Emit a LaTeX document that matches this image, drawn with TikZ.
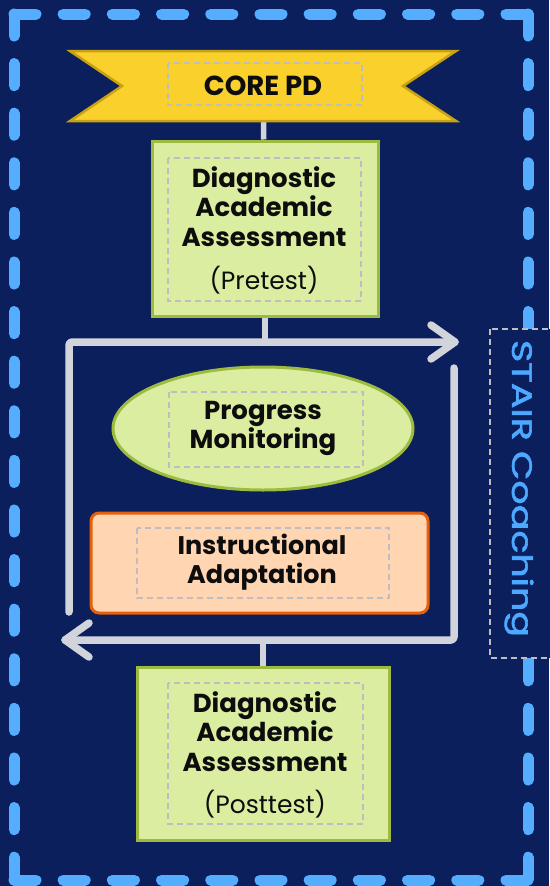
\documentclass[tikz,border=0pt]{standalone}
\usepackage{fontspec}
\setmainfont{Poppins}
\newfontfamily\stairfont{Poppins}[FakeBold=2]
\usetikzlibrary{shapes.geometric,calc}
\definecolor{navy}{HTML}{0A1F5C}
\definecolor{dashblue}{HTML}{55ADFF}
\definecolor{stairblue}{HTML}{4DA8FF}
\definecolor{bannery}{HTML}{F9D02C}
\definecolor{bannerg}{HTML}{C9A214}
\definecolor{greenfill}{HTML}{DBEDA0}
\definecolor{greenline}{HTML}{9CBB3F}
\definecolor{orangefill}{HTML}{FFD5B2}
\definecolor{orangeline}{HTML}{E65F0C}
\definecolor{innergray}{HTML}{BDBDC2}
\definecolor{loopgray}{HTML}{D2D4DC}
\definecolor{ink}{HTML}{0D0D0D}
\pgfdeclarelayer{back}
\pgfdeclarelayer{bg}
\pgfsetlayers{back,bg,main}
\tikzset{
  greenbox/.style={draw=greenline, fill=greenfill, line width=3pt, text=ink, align=center, inner sep=0pt},
  innerbox/.style={draw=innergray, line width=2.4pt, dash pattern=on 6pt off 4pt},
  loopline/.style={draw=loopgray, line width=7.5pt, line cap=round, line join=round},
  conn/.style={draw=loopgray, line width=5.5pt},
  borderline/.style={draw=dashblue, line width=11pt, line cap=round},
  bodytxt/.style={text=ink, align=center, inner sep=0pt, font=\fontsize{26}{29.5}\selectfont\bfseries},
}
\begin{document}
\begin{tikzpicture}[x=1pt,y=-1pt]
\useasboundingbox (0,0) rectangle (549,886);
\begin{pgfonlayer}{back}
\fill[navy] (0,0) rectangle (549,886);
% border
\draw[borderline, dash pattern=on 22pt off 27.2pt] (14,14) -- (528,14);
\draw[borderline, dash pattern=on 22pt off 27.2pt] (14,880) -- (528,880);
\draw[borderline, dash pattern=on 22pt off 27.6pt] (14,14) -- (14,880);
\draw[borderline, dash pattern=on 22pt off 27.6pt] (528,14) -- (528,880);
\end{pgfonlayer}

% banner
\draw[fill=bannery, draw=bannerg, line width=2.5pt, line join=miter]
  (70,51) -- (456,51) -- (403,86) -- (456,121) -- (70,121) -- (122,86) -- cycle;
\draw[innerbox] (168,63) rectangle (362,105);
\node[text=ink, inner sep=0pt, font=\fontsize{27.5}{29}\selectfont\bfseries] (core) at (263,86) {CORE PD};

% pretest box
\node[greenbox, minimum width=226pt, minimum height=175pt] (pre) at (265,228.5) {};
\draw[innerbox] (168,158) rectangle (361,301);
\node[bodytxt] (pretxt) at (264,230.5) {Diagnostic\\Academic\\Assessment\\[14pt]\mdseries\fontsize{25}{29.5}\selectfont (Pretest)};

% progress monitoring ellipse
\node[ellipse, draw=greenline, fill=greenfill, line width=3pt, minimum width=300pt, minimum height=123pt, inner sep=0pt] (pm) at (263,428.5) {};
\draw[innerbox] (169,392) rectangle (363,467);
\node[bodytxt, font=\fontsize{26}{27}\selectfont\bfseries] (pmtxt) at (263,428.5) {Progress\\Monitoring};

% instructional adaptation
\node[draw=orangeline, fill=orangefill, line width=3pt, rounded corners=8pt, minimum width=337pt, minimum height=100pt, inner sep=0pt] (ia) at (259.5,563) {};
\draw[innerbox] (137,528) rectangle (389,598);
\node[bodytxt, font=\fontsize{25.5}{29}\selectfont\bfseries] (iatxt) at (262,562.5) {Instructional\\Adaptation};

% posttest box
\node[greenbox, minimum width=252pt, minimum height=173pt] (post) at (263,753.5) {};
\draw[innerbox] (168,683) rectangle (363,824);
\node[bodytxt] (posttxt) at (265,755) {Diagnostic\\Academic\\Assessment\\[13pt]\mdseries\fontsize{25}{29.5}\selectfont (Posttest)};

% loop coordinates
\coordinate (tl) at (69,342);
\coordinate (tr) at (455,342);
\coordinate (lb) at (69,612);
\coordinate (rt) at (454,368);
\coordinate (br) at (454,640);
\coordinate (bl) at (65,640);

\begin{pgfonlayer}{bg}
\draw[conn] (core) -- (pre);
\draw[conn] (pre) -- (pre |- tl);
\draw[conn] (post) -- (post |- bl);
\end{pgfonlayer}

\draw[loopline, rounded corners=3pt] (lb) -- (tl) -- (tr);
\draw[loopline] ($(tr)+(-24,-17)$) -- (tr) -- ($(tr)+(-24,17)$);
\draw[loopline, rounded corners=3pt] (rt) -- (br) -- (bl);
\draw[loopline] ($(bl)+(24,-17)$) -- (bl) -- ($(bl)+(24,17)$);

% STAIR coaching
\draw[fill=navy, draw=innergray, line width=2pt, dash pattern=on 6pt off 4pt] (490,329) rectangle (565,658);
\node[rotate=-90, text=stairblue, inner sep=0pt] (stair) at (519,488.5) {\resizebox{297pt}{\height}{\stairfont\fontsize{28}{28}\selectfont STAIR Coaching}};
\end{tikzpicture}
\end{document}
